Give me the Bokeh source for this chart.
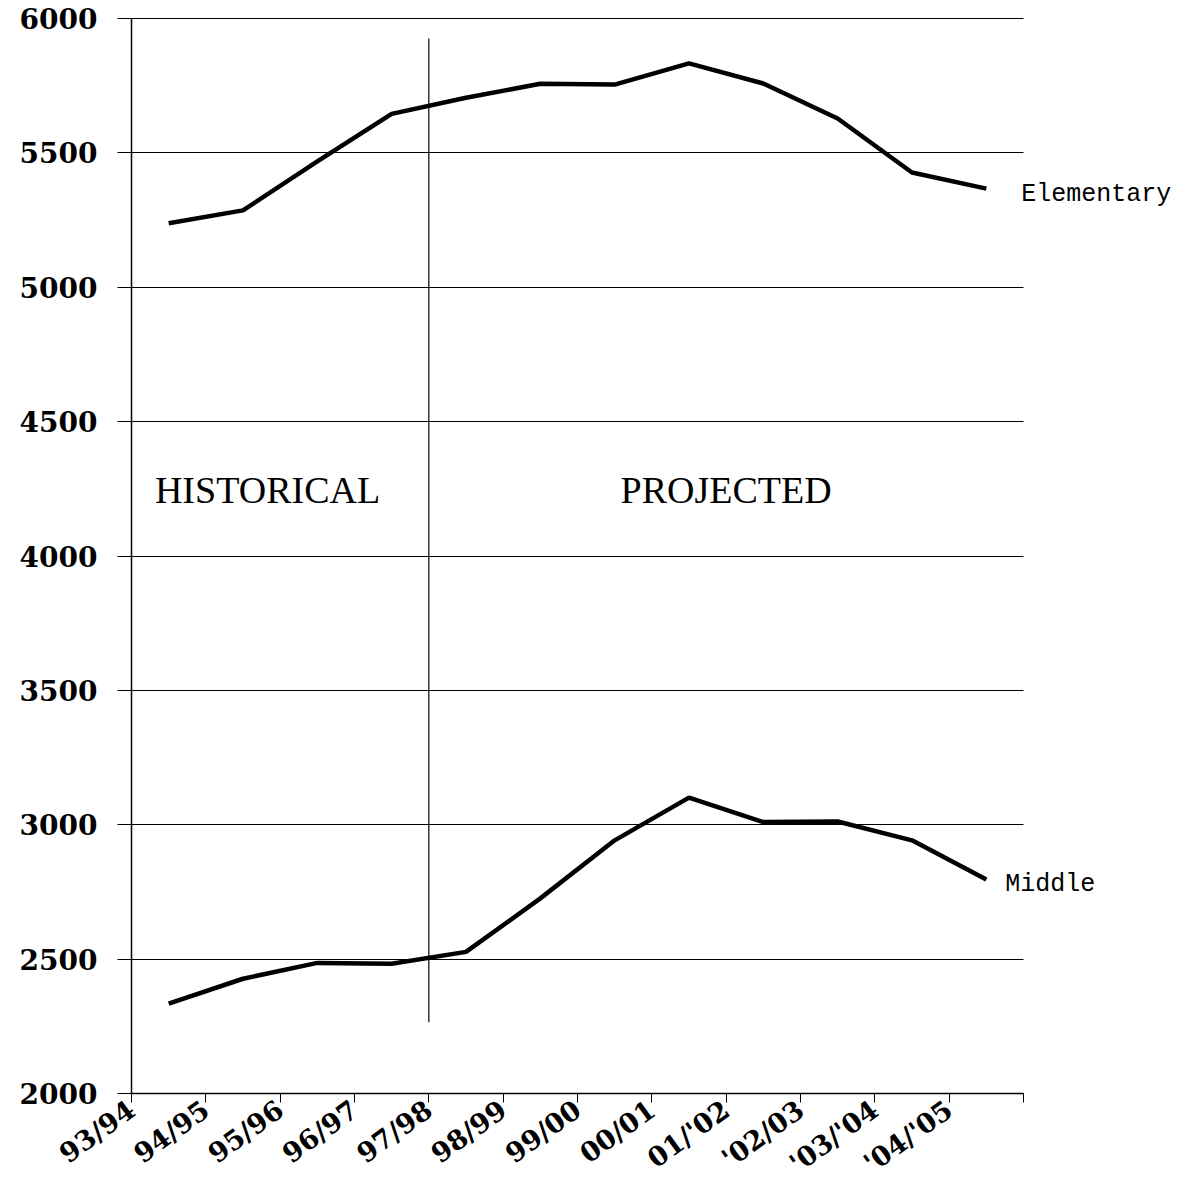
import math
from bokeh.plotting import figure
from bokeh.models import Range1d, FixedTicker, Label
from bokeh.core.properties import value
from bokeh.embed import file_html
from bokeh.resources import INLINE

# ---- data ----
years = ["93/94", "94/95", "95/96", "96/97", "97/98", "98/99", "99/00",
         "00/01", "01/'02", "'02/03", "'03/'04", "'04/'05"]
elementary = [5238, 5286, 5468, 5645, 5705, 5757, 5754, 5833, 5758, 5628, 5427, 5367]
middle = [2334, 2427, 2486, 2483, 2527, 2726, 2942, 3101, 3010, 3012, 2942, 2796]
y_ticks = [2000, 2500, 3000, 3500, 4000, 4500, 5000, 5500, 6000]
historical_count = 4          # first four school years are historical
divider_span = [2265, 5926]   # vertical extent of historical/projected divider
period_label_y = 4244

n = len(years)
xs = [i + 0.5 for i in range(n)]
y_lo, y_hi = y_ticks[0], y_ticks[-1]

# The frame covers the whole canvas so that no text is clipped; both axes are
# pinned (fixed_location) at the data edges and the axes/grid are bounded.
W, H = 1176, 1185
left, top = 131, 18                 # pixel position of the plotting area corner
px_per_cat = 892 / n
px_per_val = 1075 / (y_hi - y_lo)
x_start = -left / px_per_cat
x_end = (W - left) / px_per_cat
y_end = y_hi + top / px_per_val
y_start = y_hi - (H - top) / px_per_val

p = figure(width=W, height=H, output_backend="svg", toolbar_location=None,
           x_range=Range1d(x_start, x_end), y_range=Range1d(y_start, y_end),
           min_border_left=0, min_border_right=0, min_border_top=0,
           min_border_bottom=0)
p.outline_line_color = None
p.background_fill_color = "white"

# x axis, pinned at the bottom value
xa = p.xaxis[0]
xa.fixed_location = y_lo
xa.bounds = (0, n)
xa.ticker = FixedTicker(ticks=list(range(n + 1)))
overrides = {i: lab for i, lab in enumerate(years)}
overrides[n] = ""
xa.major_label_overrides = overrides
xa.major_label_orientation = math.radians(36)
xa.major_label_text_font = "DejaVu Serif"
xa.major_label_text_font_style = "bold"
xa.major_label_text_font_size = "27px"
xa.major_label_text_color = "black"
xa.major_tick_out = 9
xa.major_tick_in = 0
xa.minor_tick_line_color = None
xa.axis_line_color = "black"
xa.axis_line_width = 1.5
xa.major_tick_line_color = "black"
xa.major_label_standoff = 4

# y axis, pinned at the first category edge
ya = p.yaxis[0]
ya.fixed_location = 0
ya.bounds = (y_lo, y_hi)
ya.ticker = FixedTicker(ticks=y_ticks)
ya.major_label_text_font = "DejaVu Serif"
ya.major_label_text_font_style = "bold"
ya.major_label_text_font_size = "28px"
ya.major_label_text_color = "black"
ya.major_tick_out = 14
ya.major_tick_in = 0
ya.minor_tick_line_color = None
ya.axis_line_color = "black"
ya.axis_line_width = 1.5
ya.major_tick_line_color = "black"
ya.major_label_standoff = 20

p.xgrid.grid_line_color = None
p.ygrid.ticker = FixedTicker(ticks=y_ticks)
p.ygrid.grid_line_color = "black"
p.ygrid.grid_line_width = 1
p.ygrid.cross_bounds = (0, n)

# divider between historical and projected
p.segment(x0=[historical_count], y0=[divider_span[0]], x1=[historical_count],
          y1=[divider_span[1]], line_color="black", line_width=1.2)

# series lines
p.line(xs, elementary, line_color="black", line_width=4.5)
p.line(xs, middle, line_color="black", line_width=4.5)

# series labels
p.add_layout(Label(x=xs[-1], y=elementary[-1], text="Elementary", x_offset=35, y_offset=-6,
                   text_font="Liberation Mono", text_font_size="25px",
                   text_align="left", text_baseline="middle", text_color="black"))
p.add_layout(Label(x=xs[-1], y=middle[-1], text="Middle", x_offset=19, y_offset=-5,
                   text_font="Liberation Mono", text_font_size="25px",
                   text_align="left", text_baseline="middle", text_color="black"))

# period labels
p.text(x=[historical_count / 2 - 0.17], y=[period_label_y], text=["HISTORICAL"],
       text_font=value("Liberation Serif"), text_font_size="38px",
       text_align="center", text_baseline="middle", text_color="black")
p.text(x=[(historical_count + n) / 2], y=[period_label_y], text=["PROJECTED"],
       text_font=value("Liberation Serif"), text_font_size="38px",
       text_align="center", text_baseline="middle", text_color="black")

open("out.html", "w").write(file_html(p, INLINE))
